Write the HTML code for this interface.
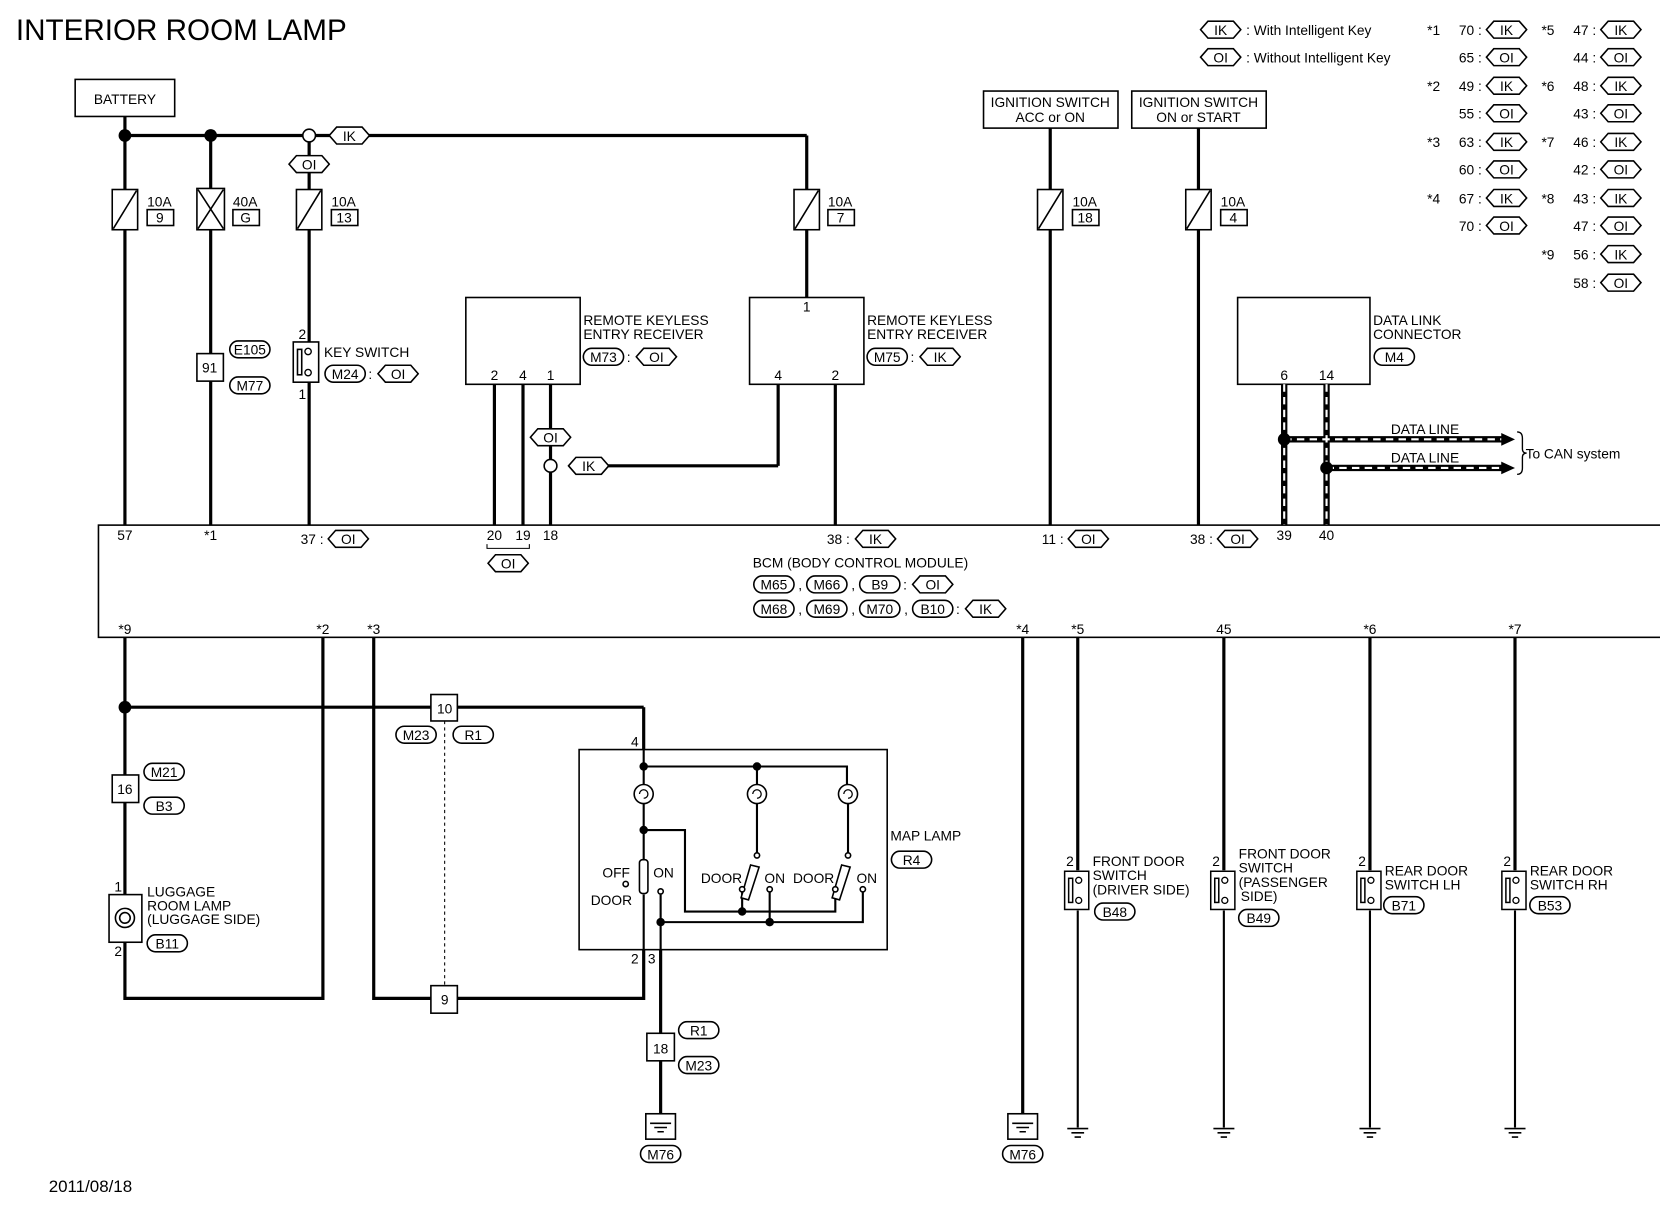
<!DOCTYPE html>
<html><head><meta charset="utf-8"><style>
html,body{margin:0;padding:0;background:#fff;}
svg{display:block;}
text{font-family:"Liberation Sans",sans-serif;font-size:13px;fill:#000;}
</style></head><body>
<svg width="1660" height="1216" viewBox="0 0 1660 1216" xmlns="http://www.w3.org/2000/svg">
<defs>
<symbol id="h" viewBox="0 0 40 18" preserveAspectRatio="none"><polygon points="1,9 8,1 32,1 39,9 32,17 8,17" fill="#fff" stroke="#000" stroke-width="1.5"/></symbol>
<symbol id="r" viewBox="0 0 40 18" preserveAspectRatio="none"><rect x="1" y="1" width="38" height="16" rx="8" fill="#fff" stroke="#000" stroke-width="1.5"/></symbol>
<symbol id="fz" viewBox="0 0 26 40"><rect x="1" y="1" width="24" height="38" fill="#fff" stroke="#000" stroke-width="1.5"/><line x1="2" y1="38" x2="24" y2="2" stroke="#000" stroke-width="1.5"/></symbol>
<symbol id="gnd" viewBox="0 0 20 12"><line x1="0" y1="1" x2="20" y2="1" stroke="#000" stroke-width="1.5"/><line x1="4" y1="5" x2="16" y2="5" stroke="#000" stroke-width="1.5"/><line x1="7" y1="9" x2="13" y2="9" stroke="#000" stroke-width="1.5"/></symbol>
<symbol id="sw" viewBox="0 0 26 40"><rect x="1" y="1" width="24" height="38" fill="#fff" stroke="#000" stroke-width="1.5"/><rect x="5" y="8" width="4" height="24" fill="#fff" stroke="#000" stroke-width="1.5"/><circle cx="15" cy="10" r="3" fill="#fff" stroke="#000" stroke-width="1.3"/><circle cx="15" cy="30" r="3" fill="#fff" stroke="#000" stroke-width="1.3"/></symbol>
</defs>
<g transform="scale(1.0587)">
<text x="15" y="38" style="font-size:28px">INTERIOR ROOM LAMP</text>
<text x="46" y="1126" style="font-size:16px">2011/08/18</text>

<use href="#h" x="1133" y="19" width="40" height="18"/><text x="1153" y="33" text-anchor="middle">IK</text>
<text x="1177" y="33">: With Intelligent Key</text>
<use href="#h" x="1133" y="45" width="40" height="18"/><text x="1153" y="59" text-anchor="middle">OI</text>
<text x="1177" y="59">: Without Intelligent Key</text>

<g>
<text x="1348" y="33">*1</text><text x="1378" y="33">70 :</text><use href="#h" x="1403" y="19" width="40" height="18"/><text x="1423" y="33" text-anchor="middle">IK</text>
<text x="1378" y="59">65 :</text><use href="#h" x="1403" y="45" width="40" height="18"/><text x="1423" y="59" text-anchor="middle">OI</text>
<text x="1348" y="86">*2</text><text x="1378" y="86">49 :</text><use href="#h" x="1403" y="72" width="40" height="18"/><text x="1423" y="86" text-anchor="middle">IK</text>
<text x="1378" y="112">55 :</text><use href="#h" x="1403" y="98" width="40" height="18"/><text x="1423" y="112" text-anchor="middle">OI</text>
<text x="1348" y="139">*3</text><text x="1378" y="139">63 :</text><use href="#h" x="1403" y="125" width="40" height="18"/><text x="1423" y="139" text-anchor="middle">IK</text>
<text x="1378" y="165">60 :</text><use href="#h" x="1403" y="151" width="40" height="18"/><text x="1423" y="165" text-anchor="middle">OI</text>
<text x="1348" y="192">*4</text><text x="1378" y="192">67 :</text><use href="#h" x="1403" y="178" width="40" height="18"/><text x="1423" y="192" text-anchor="middle">IK</text>
<text x="1378" y="218">70 :</text><use href="#h" x="1403" y="204" width="40" height="18"/><text x="1423" y="218" text-anchor="middle">OI</text>

<text x="1456" y="33">*5</text><text x="1486" y="33">47 :</text><use href="#h" x="1511" y="19" width="40" height="18"/><text x="1531" y="33" text-anchor="middle">IK</text>
<text x="1486" y="59">44 :</text><use href="#h" x="1511" y="45" width="40" height="18"/><text x="1531" y="59" text-anchor="middle">OI</text>
<text x="1456" y="86">*6</text><text x="1486" y="86">48 :</text><use href="#h" x="1511" y="72" width="40" height="18"/><text x="1531" y="86" text-anchor="middle">IK</text>
<text x="1486" y="112">43 :</text><use href="#h" x="1511" y="98" width="40" height="18"/><text x="1531" y="112" text-anchor="middle">OI</text>
<text x="1456" y="139">*7</text><text x="1486" y="139">46 :</text><use href="#h" x="1511" y="125" width="40" height="18"/><text x="1531" y="139" text-anchor="middle">IK</text>
<text x="1486" y="165">42 :</text><use href="#h" x="1511" y="151" width="40" height="18"/><text x="1531" y="165" text-anchor="middle">OI</text>
<text x="1456" y="192">*8</text><text x="1486" y="192">43 :</text><use href="#h" x="1511" y="178" width="40" height="18"/><text x="1531" y="192" text-anchor="middle">IK</text>
<text x="1486" y="218">47 :</text><use href="#h" x="1511" y="204" width="40" height="18"/><text x="1531" y="218" text-anchor="middle">OI</text>
<text x="1456" y="245">*9</text><text x="1486" y="245">56 :</text><use href="#h" x="1511" y="231" width="40" height="18"/><text x="1531" y="245" text-anchor="middle">IK</text>
<text x="1486" y="272">58 :</text><use href="#h" x="1511" y="258" width="40" height="18"/><text x="1531" y="272" text-anchor="middle">OI</text>
</g>

<g stroke="#000" stroke-width="3" fill="none">
<line x1="118" y1="110" x2="118" y2="496"/>
<line x1="118" y1="128" x2="762" y2="128"/>
<line x1="199" y1="128" x2="199" y2="496"/>
<line x1="292" y1="128" x2="292" y2="496"/>
<line x1="762" y1="128" x2="762" y2="281"/>
<line x1="467" y1="363" x2="467" y2="496"/>
<line x1="494" y1="363" x2="494" y2="496"/>
<line x1="520" y1="363" x2="520" y2="496"/>
<line x1="735" y1="363" x2="735" y2="440"/><line x1="735" y1="440" x2="570" y2="440"/>
<line x1="789" y1="363" x2="789" y2="496"/>
<line x1="992" y1="121" x2="992" y2="496"/>
<line x1="1132" y1="121" x2="1132" y2="496"/>
</g>
<circle cx="118" cy="128" r="6"/><circle cx="199" cy="128" r="6"/>
<circle cx="292" cy="128" r="6" fill="#fff" stroke="#000" stroke-width="1.5"/>
<use href="#h" x="310" y="119" width="40" height="18"/><text x="330" y="133" text-anchor="middle">IK</text>
<use href="#h" x="272" y="146" width="40" height="18"/><text x="292" y="160" text-anchor="middle">OI</text>

<rect x="71" y="75" width="94" height="35" fill="#fff" stroke="#000" stroke-width="1.5"/><text x="118" y="98" text-anchor="middle">BATTERY</text>

<use href="#fz" x="105" y="178" width="26" height="40"/><text x="139" y="195">10A</text><rect x="139" y="198" width="25" height="15" fill="none" stroke="#000" stroke-width="1.5"/><text x="151" y="210" text-anchor="middle">9</text>
<rect x="186" y="178" width="26" height="39" fill="#fff" stroke="#000" stroke-width="1.5"/><line x1="187" y1="216" x2="211" y2="179" stroke="#000" stroke-width="1.5"/><line x1="187" y1="179" x2="211" y2="216" stroke="#000" stroke-width="1.5"/>
<text x="220" y="195">40A</text><rect x="220" y="198" width="25" height="15" fill="none" stroke="#000" stroke-width="1.5"/><text x="232" y="210" text-anchor="middle">G</text>
<use href="#fz" x="279" y="178" width="26" height="40"/><text x="313" y="195">10A</text><rect x="313" y="198" width="25" height="15" fill="none" stroke="#000" stroke-width="1.5"/><text x="325" y="210" text-anchor="middle">13</text>
<use href="#fz" x="749" y="178" width="26" height="40"/><text x="782" y="195">10A</text><rect x="782" y="198" width="25" height="15" fill="none" stroke="#000" stroke-width="1.5"/><text x="794" y="210" text-anchor="middle">7</text>
<use href="#fz" x="979" y="178" width="26" height="40"/><text x="1013" y="195">10A</text><rect x="1013" y="198" width="25" height="15" fill="none" stroke="#000" stroke-width="1.5"/><text x="1025" y="210" text-anchor="middle">18</text>
<use href="#fz" x="1119" y="178" width="26" height="40"/><text x="1153" y="195">10A</text><rect x="1153" y="198" width="25" height="15" fill="none" stroke="#000" stroke-width="1.5"/><text x="1165" y="210" text-anchor="middle">4</text>

<rect x="929" y="86" width="127" height="35" fill="#fff" stroke="#000" stroke-width="1.5"/><text x="992" y="101" text-anchor="middle">IGNITION SWITCH</text><text x="992" y="115" text-anchor="middle">ACC or ON</text>
<rect x="1069" y="86" width="127" height="35" fill="#fff" stroke="#000" stroke-width="1.5"/><text x="1132" y="101" text-anchor="middle">IGNITION SWITCH</text><text x="1132" y="115" text-anchor="middle">ON or START</text>

<rect x="186" y="334" width="25" height="26" fill="#fff" stroke="#000" stroke-width="1.5"/><text x="198" y="352" text-anchor="middle">91</text>
<use href="#r" x="216" y="321" width="40" height="18"/><text x="236" y="335" text-anchor="middle">E105</text>
<use href="#r" x="216" y="355" width="40" height="18"/><text x="236" y="369" text-anchor="middle">M77</text>

<use href="#sw" x="276" y="322" width="26" height="40"/>
<text x="282" y="320">2</text><text x="282" y="377">1</text>
<text x="306" y="337">KEY SWITCH</text>
<use href="#r" x="306" y="344" width="40" height="18"/><text x="326" y="358" text-anchor="middle">M24</text><text x="348" y="358">:</text>
<use href="#h" x="356" y="344" width="40" height="18"/><text x="376" y="358" text-anchor="middle">OI</text>

<rect x="440" y="281" width="108" height="82" fill="#fff" stroke="#000" stroke-width="1.5"/>
<text x="467" y="359" text-anchor="middle">2</text><text x="494" y="359" text-anchor="middle">4</text><text x="520" y="359" text-anchor="middle">1</text>
<text x="551" y="307">REMOTE KEYLESS</text><text x="551" y="320">ENTRY RECEIVER</text>
<use href="#r" x="550" y="328" width="40" height="18"/><text x="570" y="342" text-anchor="middle">M73</text><text x="592" y="342">:</text>
<use href="#h" x="600" y="328" width="40" height="18"/><text x="620" y="342" text-anchor="middle">OI</text>
<use href="#h" x="500" y="404" width="40" height="18"/><text x="520" y="418" text-anchor="middle">OI</text>
<circle cx="520" cy="440" r="6" fill="#fff" stroke="#000" stroke-width="1.5"/>
<use href="#h" x="536" y="431" width="40" height="18"/><text x="556" y="445" text-anchor="middle">IK</text>

<rect x="708" y="281" width="108" height="82" fill="#fff" stroke="#000" stroke-width="1.5"/>
<text x="762" y="294" text-anchor="middle">1</text>
<text x="735" y="359" text-anchor="middle">4</text><text x="789" y="359" text-anchor="middle">2</text>
<text x="819" y="307">REMOTE KEYLESS</text><text x="819" y="320">ENTRY RECEIVER</text>
<use href="#r" x="818" y="328" width="40" height="18"/><text x="838" y="342" text-anchor="middle">M75</text><text x="860" y="342">:</text>
<use href="#h" x="868" y="328" width="40" height="18"/><text x="888" y="342" text-anchor="middle">IK</text>

<rect x="1169" y="281" width="125" height="82" fill="#fff" stroke="#000" stroke-width="1.5"/>
<text x="1213" y="359" text-anchor="middle">6</text><text x="1253" y="359" text-anchor="middle">14</text>
<text x="1297" y="307">DATA LINK</text><text x="1297" y="320">CONNECTOR</text>
<use href="#r" x="1297" y="328" width="40" height="18"/><text x="1317" y="342" text-anchor="middle">M4</text>
<g fill="none">
<path d="M1213 363 V496 M1253 363 V496 M1213 415 H1420 M1253 442 H1420" stroke="#000" stroke-width="6"/>
<path d="M1213 363 V496 M1253 363 V496 M1213 415 H1420 M1253 442 H1420" stroke="#fff" stroke-width="2" stroke-dasharray="7 5"/>
</g>
<polygon points="1418,409 1431,415 1418,421"/><polygon points="1418,436 1431,442 1418,448"/>
<circle cx="1213" cy="415" r="6"/><circle cx="1253" cy="442" r="6"/>
<text x="1346" y="410" text-anchor="middle">DATA LINE</text><text x="1346" y="437" text-anchor="middle">DATA LINE</text>
<path d="M1433 408 Q1438 408 1438 414 V424 Q1438 428 1442 428 Q1438 428 1438 432 V442 Q1438 448 1433 448" fill="none" stroke="#000" stroke-width="1.3"/>
<text x="1441" y="433">To CAN system</text>

<rect x="93" y="496" width="1500" height="106" fill="#fff" stroke="#000" stroke-width="1.5"/>
<text x="118" y="510" text-anchor="middle">57</text><text x="199" y="510" text-anchor="middle">*1</text>
<text x="284" y="514">37 :</text><use href="#h" x="309" y="500" width="40" height="18"/><text x="329" y="514" text-anchor="middle">OI</text>
<text x="467" y="510" text-anchor="middle">20</text><text x="494" y="510" text-anchor="middle">19</text><text x="520" y="510" text-anchor="middle">18</text>
<path d="M460 514 V518 H500 V514" fill="none" stroke="#000" stroke-width="1"/>
<use href="#h" x="460" y="523" width="40" height="18"/><text x="480" y="537" text-anchor="middle">OI</text>
<text x="781" y="514">38 :</text><use href="#h" x="807" y="500" width="40" height="18"/><text x="827" y="514" text-anchor="middle">IK</text>
<text x="984" y="514">11 :</text><use href="#h" x="1008" y="500" width="40" height="18"/><text x="1028" y="514" text-anchor="middle">OI</text>
<text x="1124" y="514">38 :</text><use href="#h" x="1149" y="500" width="40" height="18"/><text x="1169" y="514" text-anchor="middle">OI</text>
<text x="1213" y="510" text-anchor="middle">39</text><text x="1253" y="510" text-anchor="middle">40</text>
<text x="711" y="536">BCM (BODY CONTROL MODULE)</text>
<use href="#r" x="711" y="543" width="40" height="18"/><text x="731" y="557" text-anchor="middle">M65</text><text x="754" y="557">,</text>
<use href="#r" x="761" y="543" width="40" height="18"/><text x="781" y="557" text-anchor="middle">M66</text><text x="804" y="557">,</text>
<use href="#r" x="811" y="543" width="40" height="18"/><text x="831" y="557" text-anchor="middle">B9</text><text x="853" y="557">:</text>
<use href="#h" x="861" y="543" width="40" height="18"/><text x="881" y="557" text-anchor="middle">OI</text>
<use href="#r" x="711" y="566" width="40" height="18"/><text x="731" y="580" text-anchor="middle">M68</text><text x="754" y="580">,</text>
<use href="#r" x="761" y="566" width="40" height="18"/><text x="781" y="580" text-anchor="middle">M69</text><text x="804" y="580">,</text>
<use href="#r" x="811" y="566" width="40" height="18"/><text x="831" y="580" text-anchor="middle">M70</text><text x="854" y="580">,</text>
<use href="#r" x="861" y="566" width="40" height="18"/><text x="881" y="580" text-anchor="middle">B10</text><text x="903" y="580">:</text>
<use href="#h" x="911" y="566" width="40" height="18"/><text x="931" y="580" text-anchor="middle">IK</text>
<text x="118" y="599" text-anchor="middle">*9</text><text x="305" y="599" text-anchor="middle">*2</text><text x="353" y="599" text-anchor="middle">*3</text>
<text x="966" y="599" text-anchor="middle">*4</text><text x="1018" y="599" text-anchor="middle">*5</text><text x="1156" y="599" text-anchor="middle">45</text>
<text x="1294" y="599" text-anchor="middle">*6</text><text x="1431" y="599" text-anchor="middle">*7</text>

<g stroke="#000" stroke-width="3" fill="none">
<path d="M118 602 V943 H305 V602"/>
<path d="M353 602 V943 H608 V708"/>
<line x1="118" y1="668" x2="608" y2="668"/>
<line x1="608" y1="668" x2="608" y2="708"/>
<line x1="624" y1="897" x2="624" y2="1052"/>
<line x1="966" y1="602" x2="966" y2="1052"/>
<line x1="1018" y1="602" x2="1018" y2="822"/>
<line x1="1156" y1="602" x2="1156" y2="822"/>
<line x1="1294" y1="602" x2="1294" y2="822"/>
<line x1="1431" y1="602" x2="1431" y2="822"/>
</g>
<g stroke="#000" stroke-width="2" fill="none">
<line x1="1018" y1="860" x2="1018" y2="1065"/><line x1="1156" y1="860" x2="1156" y2="1065"/>
<line x1="1294" y1="860" x2="1294" y2="1065"/><line x1="1431" y1="860" x2="1431" y2="1065"/>
</g>
<circle cx="118" cy="668" r="6"/>
<line x1="420" y1="681" x2="420" y2="931" stroke="#000" stroke-width="1" stroke-dasharray="3 3"/>
<rect x="407" y="656" width="25" height="25" fill="#fff" stroke="#000" stroke-width="1.5"/><text x="420" y="674" text-anchor="middle">10</text>
<use href="#r" x="373" y="685" width="40" height="18"/><text x="393" y="699" text-anchor="middle">M23</text>
<use href="#r" x="427" y="685" width="40" height="18"/><text x="447" y="699" text-anchor="middle">R1</text>
<rect x="407" y="931" width="25" height="26" fill="#fff" stroke="#000" stroke-width="1.5"/><text x="420" y="949" text-anchor="middle">9</text>

<rect x="106" y="732" width="25" height="26" fill="#fff" stroke="#000" stroke-width="1.5"/><text x="118" y="750" text-anchor="middle">16</text>
<use href="#r" x="135" y="720" width="40" height="18"/><text x="155" y="734" text-anchor="middle">M21</text>
<use href="#r" x="135" y="752" width="40" height="18"/><text x="155" y="766" text-anchor="middle">B3</text>
<rect x="103" y="845" width="31" height="45" fill="#fff" stroke="#000" stroke-width="1.5"/>
<circle cx="118" cy="867" r="9" fill="#fff" stroke="#000" stroke-width="1.5"/><circle cx="118" cy="867" r="5" fill="#fff" stroke="#000" stroke-width="1.5"/>
<text x="108" y="842">1</text><text x="108" y="903">2</text>
<text x="139" y="847">LUGGAGE</text><text x="139" y="860">ROOM LAMP</text><text x="139" y="873">(LUGGAGE SIDE)</text>
<use href="#r" x="138" y="882" width="40" height="18"/><text x="158" y="896" text-anchor="middle">B11</text>

<rect x="547" y="708" width="291" height="189" fill="#fff" stroke="#000" stroke-width="1.5"/>
<text x="596" y="705">4</text><text x="596" y="910">2</text><text x="612" y="910">3</text>
<text x="841" y="794">MAP LAMP</text>
<use href="#r" x="841" y="803" width="40" height="18"/><text x="861" y="817" text-anchor="middle">R4</text>
<g stroke="#000" stroke-width="2" fill="none">
<line x1="608" y1="708" x2="608" y2="812"/><line x1="608" y1="845" x2="608" y2="897"/>
<path d="M608 724 H800 V741"/>
<line x1="715" y1="724" x2="715" y2="741"/>
<line x1="715" y1="759" x2="715" y2="806"/><line x1="801" y1="759" x2="801" y2="806"/>
<path d="M608 784 H647 V861 H789 V842"/>
<line x1="701" y1="861" x2="701" y2="842"/>
<path d="M624 845 V871 H815 V842"/>
<line x1="727" y1="842" x2="727" y2="871"/>
<line x1="624" y1="871" x2="624" y2="897"/>
</g>
<circle cx="608" cy="724" r="4"/><circle cx="715" cy="724" r="4"/><circle cx="608" cy="784" r="4"/>
<circle cx="701" cy="861" r="4"/><circle cx="624" cy="871" r="4"/><circle cx="727" cy="871" r="4"/>
<g fill="#fff" stroke="#000" stroke-width="1.5">
<circle cx="608" cy="750" r="9"/><circle cx="715" cy="750" r="9"/><circle cx="801" cy="750" r="9"/>
<rect x="604" y="812" width="8" height="32" rx="3"/>
<circle cx="624" cy="842" r="2.5"/><circle cx="591" cy="835" r="2.5"/>
<polygon points="709,817 717,819 707,850 700,848"/><polygon points="795,817 803,819 793,850 786,848"/>
<circle cx="715" cy="808" r="2.5"/><circle cx="701" cy="840" r="2.5"/><circle cx="727" cy="840" r="2.5"/>
<circle cx="801" cy="808" r="2.5"/><circle cx="789" cy="840" r="2.5"/><circle cx="815" cy="840" r="2.5"/>
</g>
<g fill="none" stroke="#000" stroke-width="1.2">
<path d="M604 750 a4 4 0 1 1 4 4"/><path d="M711 750 a4 4 0 1 1 4 4"/><path d="M797 750 a4 4 0 1 1 4 4"/>
</g>
<text x="569" y="829">OFF</text><text x="617" y="829">ON</text><text x="558" y="855">DOOR</text>
<text x="662" y="834">DOOR</text><text x="722" y="834">ON</text><text x="749" y="834">DOOR</text><text x="809" y="834">ON</text>

<rect x="611" y="976" width="26" height="26" fill="#fff" stroke="#000" stroke-width="1.5"/><text x="624" y="995" text-anchor="middle">18</text>
<use href="#r" x="640" y="964" width="40" height="18"/><text x="660" y="978" text-anchor="middle">R1</text>
<use href="#r" x="640" y="997" width="40" height="18"/><text x="660" y="1011" text-anchor="middle">M23</text>
<rect x="610" y="1052" width="28" height="24" fill="#fff" stroke="#000" stroke-width="1.5"/><use href="#gnd" x="614" y="1060" width="20" height="12"/>
<use href="#r" x="604" y="1081" width="40" height="18"/><text x="624" y="1095" text-anchor="middle">M76</text>
<rect x="952" y="1052" width="28" height="24" fill="#fff" stroke="#000" stroke-width="1.5"/><use href="#gnd" x="956" y="1060" width="20" height="12"/>
<use href="#r" x="946" y="1081" width="40" height="18"/><text x="966" y="1095" text-anchor="middle">M76</text>

<use href="#sw" x="1004" y="822" width="26" height="38"/><text x="1007" y="818">2</text>
<text x="1032" y="818">FRONT DOOR</text><text x="1032" y="831">SWITCH</text><text x="1032" y="845">(DRIVER SIDE)</text>
<use href="#r" x="1033" y="852" width="40" height="18"/><text x="1053" y="866" text-anchor="middle">B48</text>
<use href="#gnd" x="1008" y="1065" width="20" height="12"/>
<use href="#sw" x="1142" y="822" width="26" height="38"/><text x="1145" y="818">2</text>
<text x="1170" y="811">FRONT DOOR</text><text x="1170" y="824">SWITCH</text><text x="1170" y="838">(PASSENGER</text><text x="1172" y="851">SIDE)</text>
<use href="#r" x="1169" y="858" width="40" height="18"/><text x="1189" y="872" text-anchor="middle">B49</text>
<use href="#gnd" x="1146" y="1065" width="20" height="12"/>
<use href="#sw" x="1280" y="822" width="26" height="38"/><text x="1283" y="818">2</text>
<text x="1308" y="827">REAR DOOR</text><text x="1308" y="840">SWITCH LH</text>
<use href="#r" x="1306" y="846" width="40" height="18"/><text x="1326" y="860" text-anchor="middle">B71</text>
<use href="#gnd" x="1284" y="1065" width="20" height="12"/>
<use href="#sw" x="1417" y="822" width="26" height="38"/><text x="1420" y="818">2</text>
<text x="1445" y="827">REAR DOOR</text><text x="1445" y="840">SWITCH RH</text>
<use href="#r" x="1444" y="846" width="40" height="18"/><text x="1464" y="860" text-anchor="middle">B53</text>
<use href="#gnd" x="1421" y="1065" width="20" height="12"/>
</g>
</svg>
</body></html>
